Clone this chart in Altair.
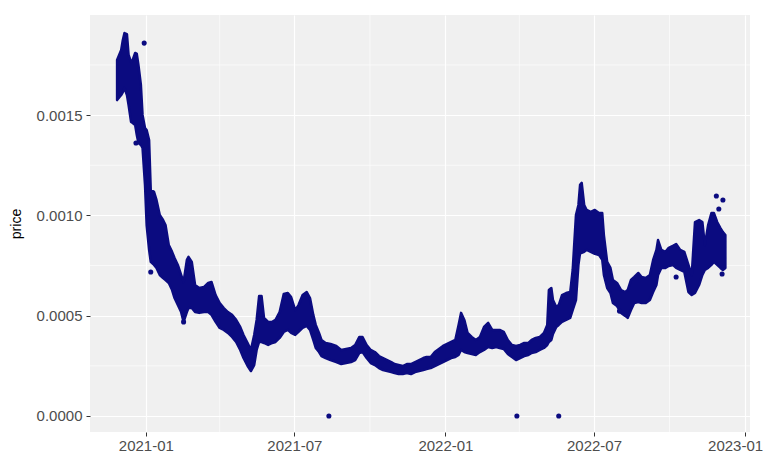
import altair as alt
import pandas as pd

# ---- band of the dense price points (per date: upper and lower edge) ----
band_dates = [
    "2020-11-27", "2020-11-29", "2020-12-02", "2020-12-04", "2020-12-06", "2020-12-09",
    "2020-12-11", "2020-12-14", "2020-12-16", "2020-12-19", "2020-12-21", "2020-12-23",
    "2020-12-26", "2020-12-28", "2020-12-31", "2021-01-02", "2021-01-05", "2021-01-07",
    "2021-01-11", "2021-01-14", "2021-01-18", "2021-01-22", "2021-01-25", "2021-01-29",
    "2021-02-02", "2021-02-05", "2021-02-09", "2021-02-13", "2021-02-16", "2021-02-20",
    "2021-02-22", "2021-02-26", "2021-03-02", "2021-03-07", "2021-03-13", "2021-03-18",
    "2021-03-22", "2021-03-27", "2021-04-01", "2021-04-06", "2021-04-11", "2021-04-16",
    "2021-04-21", "2021-04-26", "2021-04-30", "2021-05-05", "2021-05-09", "2021-05-13",
    "2021-05-16", "2021-05-19", "2021-05-22", "2021-05-25", "2021-05-30", "2021-06-04",
    "2021-06-08", "2021-06-13", "2021-06-18", "2021-06-23", "2021-06-27", "2021-07-02",
    "2021-07-06", "2021-07-11", "2021-07-16", "2021-07-20", "2021-07-24", "2021-07-27",
    "2021-07-31", "2021-08-03", "2021-08-08", "2021-08-14", "2021-08-21", "2021-08-27",
    "2021-09-02", "2021-09-08", "2021-09-13", "2021-09-18", "2021-09-22", "2021-09-27",
    "2021-10-02", "2021-10-07", "2021-10-12", "2021-10-17", "2021-10-22", "2021-10-27",
    "2021-10-31", "2021-11-05", "2021-11-10", "2021-11-15", "2021-11-20", "2021-11-25",
    "2021-11-30", "2021-12-05", "2021-12-09", "2021-12-14", "2021-12-19", "2021-12-24",
    "2021-12-29", "2022-01-03", "2022-01-08", "2022-01-13", "2022-01-17", "2022-01-20",
    "2022-01-24", "2022-01-28", "2022-02-02", "2022-02-07", "2022-02-12", "2022-02-17",
    "2022-02-22", "2022-02-27", "2022-03-04", "2022-03-08", "2022-03-13", "2022-03-18",
    "2022-03-23", "2022-03-28", "2022-04-02", "2022-04-07", "2022-04-12", "2022-04-16",
    "2022-04-21", "2022-04-26", "2022-05-01", "2022-05-05", "2022-05-07", "2022-05-10",
    "2022-05-12", "2022-05-16", "2022-05-19", "2022-05-23", "2022-05-28", "2022-06-02",
    "2022-06-05", "2022-06-09", "2022-06-12", "2022-06-14", "2022-06-16", "2022-06-19",
    "2022-06-22", "2022-06-27", "2022-07-02", "2022-07-07", "2022-07-11", "2022-07-13",
    "2022-07-17", "2022-07-21", "2022-07-24", "2022-07-29", "2022-08-03", "2022-08-08",
    "2022-08-11", "2022-08-15", "2022-08-19", "2022-08-24", "2022-08-28", "2022-09-02",
    "2022-09-07", "2022-09-11", "2022-09-15", "2022-09-17", "2022-09-21", "2022-09-26",
    "2022-09-30", "2022-10-05", "2022-10-09", "2022-10-14", "2022-10-19", "2022-10-24",
    "2022-10-28", "2022-11-01", "2022-11-06", "2022-11-10", "2022-11-13", "2022-11-17",
    "2022-11-21", "2022-11-24", "2022-11-28", "2022-12-02", "2022-12-05", "2022-12-08",
]
band_high = [
    0.001775, 0.001795, 0.001825, 0.001874, 0.001909, 0.001904,
    0.001800, 0.001765, 0.001775, 0.001810, 0.001805, 0.001750,
    0.001650, 0.001501, 0.001436, 0.001426, 0.001376, 0.001127,
    0.001117, 0.001077, 0.001002, 0.000977, 0.000952, 0.000852,
    0.000818, 0.000788, 0.000753, 0.000703, 0.000668, 0.000778,
    0.000793, 0.000768, 0.000653, 0.000638, 0.000643, 0.000663,
    0.000668, 0.000603, 0.000563, 0.000538, 0.000518, 0.000504,
    0.000479, 0.000444, 0.000404, 0.000364, 0.000329, 0.000404,
    0.000479, 0.000598, 0.000598, 0.000489, 0.000469, 0.000469,
    0.000479, 0.000518, 0.000608, 0.000613, 0.000593, 0.000528,
    0.000553, 0.000603, 0.000618, 0.000588, 0.000504, 0.000454,
    0.000414, 0.000379, 0.000364, 0.000359, 0.000349, 0.000329,
    0.000334, 0.000339, 0.000354, 0.000394, 0.000394, 0.000354,
    0.000329, 0.000319, 0.000299, 0.000289, 0.000279, 0.000269,
    0.000259, 0.000254, 0.000249, 0.000259, 0.000259, 0.000269,
    0.000279, 0.000289, 0.000294, 0.000294, 0.000319, 0.000334,
    0.000349, 0.000359, 0.000369, 0.000379, 0.000454, 0.000514,
    0.000479, 0.000414, 0.000394, 0.000379, 0.000394, 0.000444,
    0.000464, 0.000429, 0.000429, 0.000429, 0.000419, 0.000379,
    0.000354, 0.000349, 0.000354, 0.000364, 0.000364, 0.000379,
    0.000389, 0.000394, 0.000414, 0.000454, 0.000628, 0.000638,
    0.000578, 0.000543, 0.000553, 0.000603, 0.000613, 0.000618,
    0.000728, 0.001002, 0.001052, 0.001152, 0.001162, 0.001052,
    0.001027, 0.001017, 0.001027, 0.001012, 0.001012, 0.000902,
    0.000768, 0.000738, 0.000678, 0.000663, 0.000628, 0.000618,
    0.000628, 0.000678, 0.000693, 0.000713, 0.000693, 0.000688,
    0.000703, 0.000778, 0.000828, 0.000877, 0.000828, 0.000818,
    0.000838, 0.000848, 0.000857, 0.000828, 0.000818, 0.000753,
    0.000703, 0.000967, 0.000977, 0.000967, 0.000852, 0.000952,
    0.001012, 0.001012, 0.000967, 0.000937, 0.000917, 0.000902,
]
band_low = [
    0.001575, 0.001585, 0.001600, 0.001615, 0.001635, 0.001600,
    0.001550, 0.001466, 0.001461, 0.001451, 0.001401, 0.001361,
    0.001351, 0.001336, 0.001152, 0.000952, 0.000828, 0.000768,
    0.000753, 0.000738, 0.000703, 0.000688, 0.000678, 0.000663,
    0.000628, 0.000588, 0.000553, 0.000518, 0.000469, 0.000518,
    0.000538, 0.000538, 0.000518, 0.000514, 0.000518, 0.000518,
    0.000504, 0.000469, 0.000439, 0.000429, 0.000414, 0.000394,
    0.000369, 0.000329, 0.000289, 0.000249, 0.000224, 0.000254,
    0.000329, 0.000369, 0.000369, 0.000364, 0.000354, 0.000364,
    0.000369, 0.000389, 0.000419, 0.000429, 0.000414, 0.000404,
    0.000419, 0.000439, 0.000449, 0.000429, 0.000379, 0.000339,
    0.000319, 0.000299, 0.000289, 0.000279, 0.000269, 0.000259,
    0.000264, 0.000269, 0.000279, 0.000314, 0.000319, 0.000289,
    0.000264, 0.000254, 0.000239, 0.000229, 0.000224, 0.000219,
    0.000214, 0.000209, 0.000209, 0.000214, 0.000209, 0.000219,
    0.000224, 0.000229, 0.000234, 0.000239, 0.000249, 0.000259,
    0.000269, 0.000279, 0.000289, 0.000294, 0.000304, 0.000329,
    0.000319, 0.000314, 0.000309, 0.000304, 0.000319, 0.000329,
    0.000344, 0.000339, 0.000344, 0.000339, 0.000334, 0.000309,
    0.000294, 0.000279, 0.000289, 0.000299, 0.000304, 0.000314,
    0.000319, 0.000329, 0.000339, 0.000354, 0.000369, 0.000379,
    0.000409, 0.000444, 0.000454, 0.000469, 0.000479, 0.000489,
    0.000528, 0.000578, 0.000753, 0.000813, 0.000813, 0.000818,
    0.000828, 0.000818, 0.000808, 0.000803, 0.000778, 0.000703,
    0.000638, 0.000613, 0.000563, 0.000548, 0.000514, 0.000499,
    0.000489, 0.000528, 0.000563, 0.000568, 0.000563, 0.000563,
    0.000578, 0.000618, 0.000653, 0.000703, 0.000738, 0.000738,
    0.000748, 0.000753, 0.000738, 0.000728, 0.000718, 0.000618,
    0.000603, 0.000613, 0.000653, 0.000703, 0.000728, 0.000738,
    0.000753, 0.000768, 0.000753, 0.000738, 0.000728, 0.000738,
]

# ---- isolated points ----
out_dates = [
    "2020-12-30", "2020-12-20", "2021-01-07", "2021-02-16", "2021-08-12",
    "2022-03-29", "2022-05-19", "2022-11-27", "2022-12-05", "2022-11-30",
    "2022-12-04", "2022-08-01", "2022-10-09",
]
out_price = [
    0.001859, 0.001361, 0.000718, 0.000469, 0.0,
    0.0, 0.0, 0.001097, 0.001077, 0.001032,
    0.000708, 0.000523, 0.000693,
]

# ---- axes ----
y_ticks = [0.0, 0.0005, 0.0010, 0.0015]
y_minor = [0.00025, 0.00075, 0.00125, 0.00175]
x_ticks = [(2021, 1), (2021, 7), (2022, 1), (2022, 7), (2023, 1)]
x_minor = ["2021-04-01", "2021-10-01", "2022-04-01", "2022-10-01"]

NAVY = "#0b0b80"
LABEL = "#4D4D4D"

band = pd.DataFrame({"date": band_dates, "hi": band_high, "lo": band_low})
pts = pd.DataFrame({"date": out_dates, "price": out_price})
xminor = pd.DataFrame({"date": x_minor})
yminor = pd.DataFrame({"price": y_minor})

x_scale = alt.Scale(
    type="utc",
    domain=[alt.DateTime(year=2020, month=10, date=25, utc=True),
            alt.DateTime(year=2023, month=1, date=7, utc=True)],
)
y_scale = alt.Scale(domain=[-0.0000798, 0.001999], nice=False, zero=False)

x_axis = alt.Axis(
    values=[alt.DateTime(year=y, month=m, date=1, utc=True) for y, m in x_ticks],
    format="%Y-%m", title=None, domain=False, grid=True,
    gridColor="white", gridWidth=1.2, tickColor="#333333", tickSize=4,
    labelFontSize=15, labelColor=LABEL, labelPadding=2, labelFont="Liberation Sans",
    labelOffset={"expr": "datum.index == 1 ? -10 : 0"},
)
y_axis = alt.Axis(
    values=y_ticks, format=".4f", title="price", domain=False, grid=True,
    gridColor="white", gridWidth=1.2, tickColor="#333333", tickSize=4,
    labelFontSize=15, labelColor=LABEL, labelPadding=4, labelFont="Liberation Sans",
    titleFontSize=14, titleFontWeight="normal", titleColor="#000000",
    titleFont="Liberation Sans", titlePadding=13,
)

def X(field):
    return alt.X(field, type="temporal", scale=x_scale, axis=x_axis)

def Y(field):
    return alt.Y(field, type="quantitative", scale=y_scale, axis=y_axis)

minor_x = alt.Chart(xminor).mark_rule(color="white", strokeWidth=0.6).encode(x=X("date"))
minor_y = alt.Chart(yminor).mark_rule(color="white", strokeWidth=0.6).encode(y=Y("price"))

area = alt.Chart(band).mark_area(
    color=NAVY, stroke=NAVY, strokeWidth=2.5, opacity=1, strokeJoin="round"
).encode(x=X("date"), y=Y("hi"), y2="lo")

points = alt.Chart(pts).mark_circle(size=26, color=NAVY, opacity=1).encode(
    x=X("date"), y=Y("price")
)

chart = alt.layer(minor_x, minor_y, area, points).properties(
    width=660, height=417,
    autosize=alt.AutoSizeParams(type="none"),
    padding={"left": 82, "top": 7, "right": 13, "bottom": 23},
    background="white",
).configure_view(fill="#F0F0F0", strokeWidth=0)

chart.save("out.html", embed_options={"renderer": "svg", "actions": False})
